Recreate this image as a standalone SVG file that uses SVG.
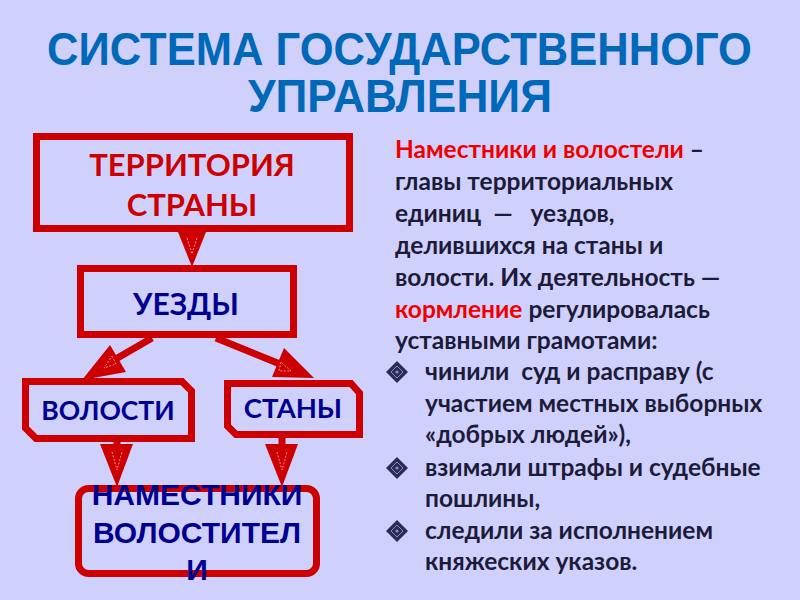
<svg xmlns="http://www.w3.org/2000/svg" width="800" height="600" viewBox="0 0 800 600">
<style>
.box{fill:none;stroke:#cc0000;stroke-width:7;stroke-linejoin:miter}
.head{fill:#cc0000;stroke:none}
.stem{stroke:#cc0000;stroke-width:7;fill:none}
.vin{fill:none;stroke:#ff8a8a;stroke-width:1;stroke-dasharray:2 1.5}
.title{font-family:"Liberation Sans",Arial,sans-serif;font-weight:bold;font-size:46px;fill:#0068b8}
.lbl{font-family:Lato,"Open Sans",sans-serif;font-weight:bold;font-size:31px;text-anchor:middle}
.mid{font-size:30px}
.sm{font-size:26.5px}
.red{fill:#cc0000}
.blue{fill:#000090}
.big{font-family:"Liberation Sans",Arial,sans-serif;font-weight:bold;font-size:30px;text-anchor:middle;fill:#000090}
.txt{font-family:Lato,"Open Sans",sans-serif;font-weight:bold;font-size:24.5px;fill:#1c1c3a;white-space:pre}
.hl{fill:#ee0000}
</style>
<defs>
<g id="bullet">
<path d="M0,-11 L11,0 L0,11 L-11,0 Z" fill="#2b2b58"/>
<path d="M0,-6 L6,0 L0,6 L-6,0 Z" fill="none" stroke="#8c8cb8" stroke-width="1"/>
<circle cx="0" cy="0" r="1.6" fill="#8c8cb8"/>
</g>
</defs>
<rect width="800" height="600" fill="#d0d0fc"/>
<text class="title" x="47" y="65" textLength="705" lengthAdjust="spacingAndGlyphs">СИСТЕМА ГОСУДАРСТВЕННОГО</text>
<text class="title" x="248" y="112" textLength="304" lengthAdjust="spacingAndGlyphs">УПРАВЛЕНИЯ</text>

<g id="connectors">
<polygon class="head" points="178,232 206,232 192,267"/>
<polyline class="vin" points="187,238 192,254 197,238"/>
<line class="stem" x1="152" y1="338" x2="114" y2="360"/>
<polygon class="head" points="110,345 126,372 82,380"/>
<polygon class="vin" points="112,356 116,364 104,368"/>
<line class="stem" x1="216" y1="338" x2="280" y2="364"/>
<polygon class="head" points="284,348 272,377 314,378"/>
<polygon class="vin" points="281,362 279,371 291,371"/>
<line class="stem" x1="117" y1="440" x2="117" y2="446"/>
<polygon class="head" points="100,444 133,444 117,487"/>
<polyline class="vin" points="112,452 117,470 122,452"/>
<line class="stem" x1="282" y1="438" x2="282" y2="446"/>
<polygon class="head" points="265,444 298,444 282,487"/>
<polyline class="vin" points="277,452 282,470 287,452"/>
</g>

<g id="territory">
<rect class="box" x="36.5" y="136.5" width="313" height="92"/>
<text class="lbl red" x="192" y="176">ТЕРРИТОРИЯ</text>
<text class="lbl red" x="192" y="216">СТРАНЫ</text>
</g>
<g id="uezdy">
<rect class="box" x="80.5" y="268.5" width="213" height="66"/>
<text class="lbl mid blue" x="186" y="315">УЕЗДЫ</text>
</g>
<g id="volosti">
<path class="box" d="M25.5,381.5 H182 L191.5,391 V438.5 H36 L25.5,428 Z"/>
<text class="lbl sm blue" x="108" y="420">ВОЛОСТИ</text>
</g>
<g id="stany">
<path class="box" d="M227.5,383.5 H351 L359.5,393 V434.5 H236 L227.5,426 Z"/>
<text class="lbl blue" x="293" y="418" style="font-size:27.5px">СТАНЫ</text>
</g>
<g id="namestniki">
<rect class="box" x="78.5" y="488.5" width="238" height="85" rx="10"/>
<text class="big" x="197" y="505">НАМЕСТНИКИ</text>
<text class="big" x="197" y="543">ВОЛОСТИТЕЛ</text>
<text class="big" x="197" y="580">И</text>
</g>

<g id="description">
<text class="txt" x="395" y="158"><tspan class="hl">Наместники и волостели</tspan> –</text>
<text class="txt" x="395" y="190">главы территориальных</text>
<text class="txt" x="395" y="222">единиц  —   уездов,</text>
<text class="txt" x="395" y="254">делившихся на станы и</text>
<text class="txt" x="395" y="286">волости. Их деятельность —</text>
<text class="txt" x="395" y="318"><tspan class="hl">кормление</tspan> регулировалась</text>
<text class="txt" x="395" y="349">уставными грамотами:</text>
<use href="#bullet" x="397" y="372"/>
<use href="#bullet" x="397" y="468"/>
<use href="#bullet" x="397" y="531"/>
<text class="txt" x="425" y="380">чинили  суд и расправу (с</text>
<text class="txt" x="425" y="412">участием местных выборных</text>
<text class="txt" x="425" y="443">«добрых людей»),</text>
<text class="txt" x="425" y="476">взимали штрафы и судебные</text>
<text class="txt" x="425" y="507">пошлины,</text>
<text class="txt" x="425" y="539">следили за исполнением</text>
<text class="txt" x="425" y="570">княжеских указов.</text>
</g>
</svg>
